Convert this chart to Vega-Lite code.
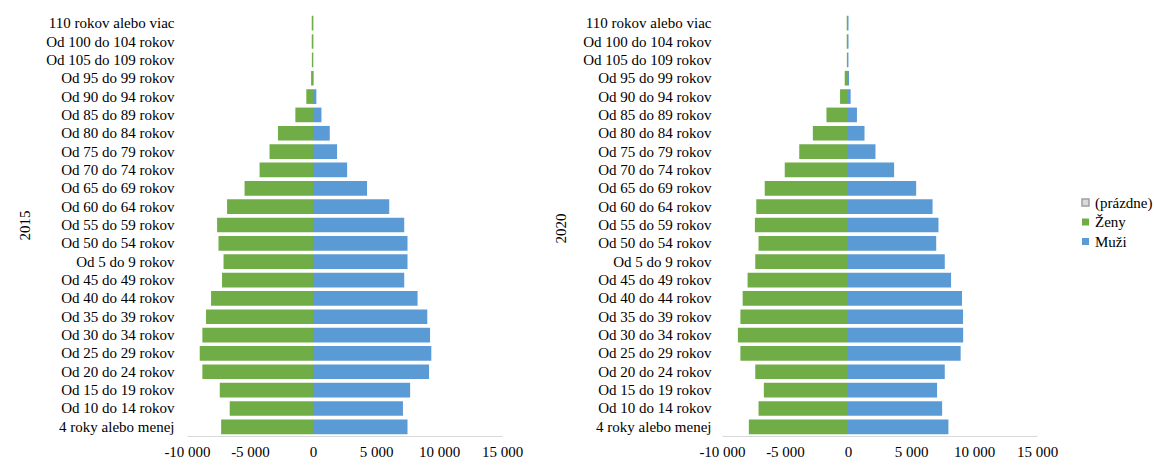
{
  "$schema": "https://vega.github.io/schema/vega-lite/v6.json",
  "background": "#ffffff",
  "padding": {"left": 17, "top": 14, "right": 0, "bottom": 0},
  "spacing": 220,
  "bounds": "flush",
  "config": {
    "view": {"stroke": null},
    "font": "Liberation Serif",
    "axis": {"labelFont": "Liberation Serif", "labelFontSize": 15, "labelColor": "#000000", "titleFont": "Liberation Serif", "titleFontSize": 15, "titleFontWeight": "normal", "titleColor": "#000000", "grid": false, "ticks": false},
    "legend": {"labelFont": "Liberation Serif", "labelFontSize": 15, "labelColor": "#000000"}
  },
  "data": {"values": [
    {"rok": 2015, "vek": "110 rokov alebo viac", "pohlavie": "Ženy", "pocet": -100},
    {"rok": 2015, "vek": "110 rokov alebo viac", "pohlavie": "Muži", "pocet": 30},
    {"rok": 2015, "vek": "Od 100 do 104 rokov", "pohlavie": "Ženy", "pocet": -100},
    {"rok": 2015, "vek": "Od 100 do 104 rokov", "pohlavie": "Muži", "pocet": 30},
    {"rok": 2015, "vek": "Od 105 do 109 rokov", "pohlavie": "Ženy", "pocet": -90},
    {"rok": 2015, "vek": "Od 105 do 109 rokov", "pohlavie": "Muži", "pocet": 25},
    {"rok": 2015, "vek": "Od 95 do 99 rokov", "pohlavie": "Ženy", "pocet": -150},
    {"rok": 2015, "vek": "Od 95 do 99 rokov", "pohlavie": "Muži", "pocet": 50},
    {"rok": 2015, "vek": "Od 90 do 94 rokov", "pohlavie": "Ženy", "pocet": -530},
    {"rok": 2015, "vek": "Od 90 do 94 rokov", "pohlavie": "Muži", "pocet": 265},
    {"rok": 2015, "vek": "Od 85 do 89 rokov", "pohlavie": "Ženy", "pocet": -1400},
    {"rok": 2015, "vek": "Od 85 do 89 rokov", "pohlavie": "Muži", "pocet": 670},
    {"rok": 2015, "vek": "Od 80 do 84 rokov", "pohlavie": "Ženy", "pocet": -2780},
    {"rok": 2015, "vek": "Od 80 do 84 rokov", "pohlavie": "Muži", "pocet": 1330},
    {"rok": 2015, "vek": "Od 75 do 79 rokov", "pohlavie": "Ženy", "pocet": -3450},
    {"rok": 2015, "vek": "Od 75 do 79 rokov", "pohlavie": "Muži", "pocet": 1910},
    {"rok": 2015, "vek": "Od 70 do 74 rokov", "pohlavie": "Ženy", "pocet": -4240},
    {"rok": 2015, "vek": "Od 70 do 74 rokov", "pohlavie": "Muži", "pocet": 2710},
    {"rok": 2015, "vek": "Od 65 do 69 rokov", "pohlavie": "Ženy", "pocet": -5430},
    {"rok": 2015, "vek": "Od 65 do 69 rokov", "pohlavie": "Muži", "pocet": 4290},
    {"rok": 2015, "vek": "Od 60 do 64 rokov", "pohlavie": "Ženy", "pocet": -6820},
    {"rok": 2015, "vek": "Od 60 do 64 rokov", "pohlavie": "Muži", "pocet": 6050},
    {"rok": 2015, "vek": "Od 55 do 59 rokov", "pohlavie": "Ženy", "pocet": -7610},
    {"rok": 2015, "vek": "Od 55 do 59 rokov", "pohlavie": "Muži", "pocet": 7240},
    {"rok": 2015, "vek": "Od 50 do 54 rokov", "pohlavie": "Ženy", "pocet": -7500},
    {"rok": 2015, "vek": "Od 50 do 54 rokov", "pohlavie": "Muži", "pocet": 7500},
    {"rok": 2015, "vek": "Od 5 do 9 rokov", "pohlavie": "Ženy", "pocet": -7100},
    {"rok": 2015, "vek": "Od 5 do 9 rokov", "pohlavie": "Muži", "pocet": 7500},
    {"rok": 2015, "vek": "Od 45 do 49 rokov", "pohlavie": "Ženy", "pocet": -7220},
    {"rok": 2015, "vek": "Od 45 do 49 rokov", "pohlavie": "Muži", "pocet": 7240},
    {"rok": 2015, "vek": "Od 40 do 44 rokov", "pohlavie": "Ženy", "pocet": -8090},
    {"rok": 2015, "vek": "Od 40 do 44 rokov", "pohlavie": "Muži", "pocet": 8300},
    {"rok": 2015, "vek": "Od 35 do 39 rokov", "pohlavie": "Ženy", "pocet": -8490},
    {"rok": 2015, "vek": "Od 35 do 39 rokov", "pohlavie": "Muži", "pocet": 9070},
    {"rok": 2015, "vek": "Od 30 do 34 rokov", "pohlavie": "Ženy", "pocet": -8780},
    {"rok": 2015, "vek": "Od 30 do 34 rokov", "pohlavie": "Muži", "pocet": 9290},
    {"rok": 2015, "vek": "Od 25 do 29 rokov", "pohlavie": "Ženy", "pocet": -8990},
    {"rok": 2015, "vek": "Od 25 do 29 rokov", "pohlavie": "Muži", "pocet": 9390},
    {"rok": 2015, "vek": "Od 20 do 24 rokov", "pohlavie": "Ženy", "pocet": -8780},
    {"rok": 2015, "vek": "Od 20 do 24 rokov", "pohlavie": "Muži", "pocet": 9210},
    {"rok": 2015, "vek": "Od 15 do 19 rokov", "pohlavie": "Ženy", "pocet": -7400},
    {"rok": 2015, "vek": "Od 15 do 19 rokov", "pohlavie": "Muži", "pocet": 7710},
    {"rok": 2015, "vek": "Od 10 do 14 rokov", "pohlavie": "Ženy", "pocet": -6610},
    {"rok": 2015, "vek": "Od 10 do 14 rokov", "pohlavie": "Muži", "pocet": 7140},
    {"rok": 2015, "vek": "4 roky alebo menej", "pohlavie": "Ženy", "pocet": -7290},
    {"rok": 2015, "vek": "4 roky alebo menej", "pohlavie": "Muži", "pocet": 7500},
    {"rok": 2020, "vek": "110 rokov alebo viac", "pohlavie": "Ženy", "pocet": -100},
    {"rok": 2020, "vek": "110 rokov alebo viac", "pohlavie": "Muži", "pocet": 40},
    {"rok": 2020, "vek": "Od 100 do 104 rokov", "pohlavie": "Ženy", "pocet": -100},
    {"rok": 2020, "vek": "Od 100 do 104 rokov", "pohlavie": "Muži", "pocet": 40},
    {"rok": 2020, "vek": "Od 105 do 109 rokov", "pohlavie": "Ženy", "pocet": -90},
    {"rok": 2020, "vek": "Od 105 do 109 rokov", "pohlavie": "Muži", "pocet": 35},
    {"rok": 2020, "vek": "Od 95 do 99 rokov", "pohlavie": "Ženy", "pocet": -260},
    {"rok": 2020, "vek": "Od 95 do 99 rokov", "pohlavie": "Muži", "pocet": 80},
    {"rok": 2020, "vek": "Od 90 do 94 rokov", "pohlavie": "Ženy", "pocet": -630},
    {"rok": 2020, "vek": "Od 90 do 94 rokov", "pohlavie": "Muži", "pocet": 210},
    {"rok": 2020, "vek": "Od 85 do 89 rokov", "pohlavie": "Ženy", "pocet": -1710},
    {"rok": 2020, "vek": "Od 85 do 89 rokov", "pohlavie": "Muži", "pocet": 710},
    {"rok": 2020, "vek": "Od 80 do 84 rokov", "pohlavie": "Ženy", "pocet": -2790},
    {"rok": 2020, "vek": "Od 80 do 84 rokov", "pohlavie": "Muži", "pocet": 1310},
    {"rok": 2020, "vek": "Od 75 do 79 rokov", "pohlavie": "Ženy", "pocet": -3870},
    {"rok": 2020, "vek": "Od 75 do 79 rokov", "pohlavie": "Muži", "pocet": 2180},
    {"rok": 2020, "vek": "Od 70 do 74 rokov", "pohlavie": "Ženy", "pocet": -5020},
    {"rok": 2020, "vek": "Od 70 do 74 rokov", "pohlavie": "Muži", "pocet": 3660},
    {"rok": 2020, "vek": "Od 65 do 69 rokov", "pohlavie": "Ženy", "pocet": -6610},
    {"rok": 2020, "vek": "Od 65 do 69 rokov", "pohlavie": "Muži", "pocet": 5410},
    {"rok": 2020, "vek": "Od 60 do 64 rokov", "pohlavie": "Ženy", "pocet": -7280},
    {"rok": 2020, "vek": "Od 60 do 64 rokov", "pohlavie": "Muži", "pocet": 6710},
    {"rok": 2020, "vek": "Od 55 do 59 rokov", "pohlavie": "Ženy", "pocet": -7390},
    {"rok": 2020, "vek": "Od 55 do 59 rokov", "pohlavie": "Muži", "pocet": 7180},
    {"rok": 2020, "vek": "Od 50 do 54 rokov", "pohlavie": "Ženy", "pocet": -7100},
    {"rok": 2020, "vek": "Od 50 do 54 rokov", "pohlavie": "Muži", "pocet": 7000},
    {"rok": 2020, "vek": "Od 5 do 9 rokov", "pohlavie": "Ženy", "pocet": -7360},
    {"rok": 2020, "vek": "Od 5 do 9 rokov", "pohlavie": "Muži", "pocet": 7680},
    {"rok": 2020, "vek": "Od 45 do 49 rokov", "pohlavie": "Ženy", "pocet": -7970},
    {"rok": 2020, "vek": "Od 45 do 49 rokov", "pohlavie": "Muži", "pocet": 8180},
    {"rok": 2020, "vek": "Od 40 do 44 rokov", "pohlavie": "Ženy", "pocet": -8360},
    {"rok": 2020, "vek": "Od 40 do 44 rokov", "pohlavie": "Muži", "pocet": 9050},
    {"rok": 2020, "vek": "Od 35 do 39 rokov", "pohlavie": "Ženy", "pocet": -8540},
    {"rok": 2020, "vek": "Od 35 do 39 rokov", "pohlavie": "Muži", "pocet": 9130},
    {"rok": 2020, "vek": "Od 30 do 34 rokov", "pohlavie": "Ženy", "pocet": -8740},
    {"rok": 2020, "vek": "Od 30 do 34 rokov", "pohlavie": "Muži", "pocet": 9140},
    {"rok": 2020, "vek": "Od 25 do 29 rokov", "pohlavie": "Ženy", "pocet": -8540},
    {"rok": 2020, "vek": "Od 25 do 29 rokov", "pohlavie": "Muži", "pocet": 8940},
    {"rok": 2020, "vek": "Od 20 do 24 rokov", "pohlavie": "Ženy", "pocet": -7360},
    {"rok": 2020, "vek": "Od 20 do 24 rokov", "pohlavie": "Muži", "pocet": 7680},
    {"rok": 2020, "vek": "Od 15 do 19 rokov", "pohlavie": "Ženy", "pocet": -6680},
    {"rok": 2020, "vek": "Od 15 do 19 rokov", "pohlavie": "Muži", "pocet": 7070},
    {"rok": 2020, "vek": "Od 10 do 14 rokov", "pohlavie": "Ženy", "pocet": -7100},
    {"rok": 2020, "vek": "Od 10 do 14 rokov", "pohlavie": "Muži", "pocet": 7470},
    {"rok": 2020, "vek": "4 roky alebo menej", "pohlavie": "Ženy", "pocet": -7870},
    {"rok": 2020, "vek": "4 roky alebo menej", "pohlavie": "Muži", "pocet": 7970}
  ]},
  "hconcat": [
    {
      "width": 315,
      "height": 422,
      "transform": [{"filter": "datum.rok == 2015"}],
      "mark": {"type": "bar"},
      "encoding": {
        "y": {"field": "vek", "type": "nominal",
          "sort": ["110 rokov alebo viac", "Od 100 do 104 rokov", "Od 105 do 109 rokov", "Od 95 do 99 rokov", "Od 90 do 94 rokov", "Od 85 do 89 rokov", "Od 80 do 84 rokov", "Od 75 do 79 rokov", "Od 70 do 74 rokov", "Od 65 do 69 rokov", "Od 60 do 64 rokov", "Od 55 do 59 rokov", "Od 50 do 54 rokov", "Od 5 do 9 rokov", "Od 45 do 49 rokov", "Od 40 do 44 rokov", "Od 35 do 39 rokov", "Od 30 do 34 rokov", "Od 25 do 29 rokov", "Od 20 do 24 rokov", "Od 15 do 19 rokov", "Od 10 do 14 rokov", "4 roky alebo menej"],
          "scale": {"paddingInner": 0.2, "paddingOuter": 0.1},
          "axis": {"title": "2015", "domain": false, "labelPadding": 13, "titleX": -163, "titleY": 211, "titleAngle": -90, "titleBaseline": "middle", "titleAlign": "center"}},
        "x": {"field": "pocet", "type": "quantitative", "stack": null,
          "scale": {"domain": [-10000, 15000], "nice": false, "zero": false},
          "axis": {"title": null, "values": [-10000, -5000, 0, 5000, 10000, 15000], "labelFlush": false, "labelPadding": 8, "domainColor": "#D9D9D9", "domainWidth": 1.2,
            "labelExpr": "datum.value == 0 ? '0' : (datum.value < 0 ? '-' : '') + floor(abs(datum.value) / 1000) + ' 000'"}},
        "color": {"field": "pohlavie", "type": "nominal",
          "scale": {"domain": ["(prázdne)", "Ženy", "Muži"], "range": ["#D9D9D9", "#70AD47", "#5B9BD5"]},
          "legend": {"title": null, "orient": "none", "legendX": 891, "legendY": 181, "symbolType": "square", "symbolSize": 49, "labelOffset": 2, "rowPadding": 3.5,
            "encode": {"symbols": {"update": {"stroke": [{"test": "datum.value === '(prázdne)'", "value": "#A0A0A0"}, {"value": "transparent"}], "strokeWidth": {"value": 1.5}, "strokeOpacity": {"value": 1}}}}}}
      }
    },
    {
      "width": 315,
      "height": 422,
      "transform": [{"filter": "datum.rok == 2020"}],
      "mark": {"type": "bar"},
      "encoding": {
        "y": {"field": "vek", "type": "nominal",
          "sort": ["110 rokov alebo viac", "Od 100 do 104 rokov", "Od 105 do 109 rokov", "Od 95 do 99 rokov", "Od 90 do 94 rokov", "Od 85 do 89 rokov", "Od 80 do 84 rokov", "Od 75 do 79 rokov", "Od 70 do 74 rokov", "Od 65 do 69 rokov", "Od 60 do 64 rokov", "Od 55 do 59 rokov", "Od 50 do 54 rokov", "Od 5 do 9 rokov", "Od 45 do 49 rokov", "Od 40 do 44 rokov", "Od 35 do 39 rokov", "Od 30 do 34 rokov", "Od 25 do 29 rokov", "Od 20 do 24 rokov", "Od 15 do 19 rokov", "Od 10 do 14 rokov", "4 roky alebo menej"],
          "scale": {"paddingInner": 0.2, "paddingOuter": 0.1},
          "axis": {"title": "2020", "domain": false, "labelPadding": 11, "titleX": -162, "titleY": 214, "titleAngle": -90, "titleBaseline": "middle", "titleAlign": "center"}},
        "x": {"field": "pocet", "type": "quantitative", "stack": null,
          "scale": {"domain": [-10000, 15000], "nice": false, "zero": false},
          "axis": {"title": null, "values": [-10000, -5000, 0, 5000, 10000, 15000], "labelFlush": false, "labelPadding": 8, "domainColor": "#D9D9D9", "domainWidth": 1.2,
            "labelExpr": "datum.value == 0 ? '0' : (datum.value < 0 ? '-' : '') + floor(abs(datum.value) / 1000) + ' 000'"}},
        "color": {"field": "pohlavie", "type": "nominal",
          "scale": {"domain": ["(prázdne)", "Ženy", "Muži"], "range": ["#D9D9D9", "#70AD47", "#5B9BD5"]},
          "legend": null}
      }
    }
  ]
}
